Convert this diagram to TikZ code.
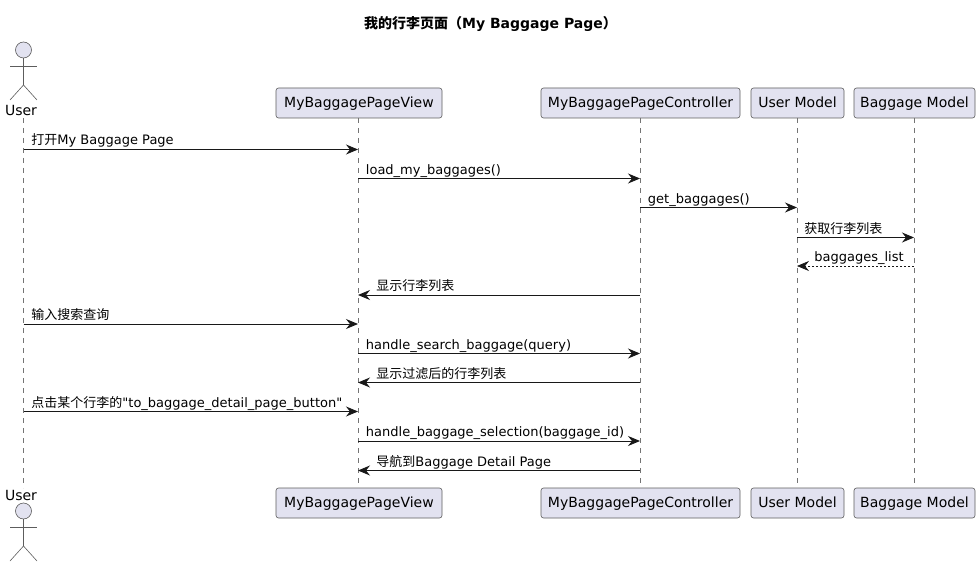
\documentclass[tikz,border=0pt]{standalone}
\usepackage{fontspec}
\setmainfont{DejaVu Sans}
\newfontfamily\cjk{Noto Sans CJK SC}
\newfontfamily\rawfont{DejaVu Sans}
\usetikzlibrary{arrows.meta}
\definecolor{boxfill}{HTML}{E2E2F0}
\definecolor{inkdark}{HTML}{181818}
\newcommand{\straightquote}{{\rawfont\char34}}
\tikzset{
	participantbox/.style={draw=inkdark!70,line width=0.6pt,fill=boxfill,rounded corners=2.5pt,
		minimum height=30pt,inner sep=0pt,font=\fontsize{14}{16}\selectfont,text=black,
		text height=11.5pt,text depth=2.5pt},
	actorhead/.style={circle,draw=inkdark!70,line width=0.6pt,fill=boxfill,minimum size=16pt,inner sep=0pt},
	actorline/.style={draw=inkdark!70,line width=0.6pt},
	actorlabel/.style={font=\fontsize{14}{16}\selectfont,inner sep=0pt,text=black},
	lifeline/.style={draw=inkdark!60,line width=0.6pt,dash pattern=on 5pt off 5pt},
	msgarrow/.style={draw=inkdark,line width=0.9pt,-{Stealth[length=12pt,width=10pt,inset=4pt]}},
	replyarrow/.style={msgarrow,line width=0.7pt,dash pattern=on 2pt off 2pt},
	msglabel/.style={font=\fontsize{13}{15}\selectfont,inner sep=0pt,anchor=base west,text=black,yshift=4.5pt},
}
\begin{document}
\begin{tikzpicture}[x=1pt,y=-1pt]
	\useasboundingbox (0,0) rectangle (980,567);

	\node[inner sep=0pt,font=\fontsize{14}{16}\selectfont\bfseries] (title) at (490.5,23.5)
		{{\cjk 我的行李页面（}My Baggage Page{\cjk ）}};

	% participants, top row
	\node[participantbox,minimum width=166pt] (viewtop) at (359,103) {MyBaggagePageView};
	\node[participantbox,minimum width=199pt] (ctrltop) at (640.5,103) {MyBaggagePageController};
	\node[participantbox,minimum width=93pt] (usermtop) at (797.5,103) {User Model};
	\node[participantbox,minimum width=121pt] (bagmtop) at (914.5,103) {Baggage Model};

	% participants, bottom row
	\node[participantbox,minimum width=166pt] (viewbot) at (359,503) {MyBaggagePageView};
	\node[participantbox,minimum width=199pt] (ctrlbot) at (640.5,503) {MyBaggagePageController};
	\node[participantbox,minimum width=93pt] (usermbot) at (797.5,503) {User Model};
	\node[participantbox,minimum width=121pt] (bagmbot) at (914.5,503) {Baggage Model};

	% actor, top
	\node[actorhead] (headtop) at (23.5,50) {};
	\coordinate (hiptop) at (23.5,85);
	\coordinate (armltop) at (10,66);
	\coordinate (armrtop) at (37,66);
	\coordinate (leglltop) at (10,100);
	\coordinate (legrtop) at (37,100);
	\draw[actorline] (headtop) -- (hiptop);
	\draw[actorline] (armltop) -- (armrtop);
	\draw[actorline] (leglltop) -- (hiptop) -- (legrtop);
	\node[actorlabel] (usertop) at (21,110) {User};

	% actor, bottom
	\node[actorlabel] (userbot) at (21,495) {User};
	\node[actorhead] (headbot) at (23.5,511) {};
	\coordinate (hipbot) at (23.5,546);
	\coordinate (armlbot) at (10,527);
	\coordinate (armrbot) at (37,527);
	\coordinate (legllbot) at (10,561);
	\coordinate (legrbot) at (37,561);
	\draw[actorline] (headbot) -- (hipbot);
	\draw[actorline] (armlbot) -- (armrbot);
	\draw[actorline] (legllbot) -- (hipbot) -- (legrbot);

	% lifelines
	\coordinate (userstart) at (23.5,118);
	\coordinate (userend) at (23.5,488);
	\draw[lifeline] (userstart) -- (userend);
	\coordinate (view) at (358,118);
	\coordinate (ctrl) at (640,118);
	\coordinate (userm) at (797,118);
	\coordinate (bagm) at (914,118);
	\draw[lifeline] (view) -- (view |- viewbot.north);
	\draw[lifeline] (ctrl) -- (ctrl |- ctrlbot.north);
	\draw[lifeline] (userm) -- (userm |- usermbot.north);
	\draw[lifeline] (bagm) -- (bagm |- bagmbot.north);

	% messages
	\coordinate (m1) at (0,149.5);
	\draw[msgarrow] (userstart |- m1) -- (view |- m1)
		node[msglabel,pos=0,xshift=7.5pt] {{\cjk 打开}My Baggage Page};
	\coordinate (m2) at (0,178.5);
	\draw[msgarrow] (view |- m2) -- (ctrl |- m2)
		node[msglabel,pos=0,xshift=7.5pt,yshift=-0.5pt] {load\_my\_baggages()};
	\coordinate (m3) at (0,207.5);
	\draw[msgarrow] (ctrl |- m3) -- (userm |- m3)
		node[msglabel,pos=0,xshift=7.5pt] {get\_baggages()};
	\coordinate (m4) at (0,237.5);
	\draw[msgarrow] (userm |- m4) -- (bagm |- m4)
		node[msglabel,pos=0,xshift=7pt] {\cjk 获取行李列表};
	\coordinate (m5) at (0,266);
	\draw[replyarrow] (bagm |- m5) -- (userm |- m5)
		node[msglabel,pos=1,xshift=17pt] {baggages\_list};
	\coordinate (m6) at (0,295);
	\draw[msgarrow] (ctrl |- m6) -- (view |- m6)
		node[msglabel,pos=1,xshift=18pt] {\cjk 显示行李列表};
	\coordinate (m7) at (0,324);
	\draw[msgarrow] (userstart |- m7) -- (view |- m7)
		node[msglabel,pos=0,xshift=7.5pt] {\cjk 输入搜索查询};
	\coordinate (m8) at (0,353.5);
	\draw[msgarrow] (view |- m8) -- (ctrl |- m8)
		node[msglabel,pos=0,xshift=7.5pt] {handle\_search\_baggage(query)};
	\coordinate (m9) at (0,382.5);
	\draw[msgarrow] (ctrl |- m9) -- (view |- m9)
		node[msglabel,pos=1,xshift=18pt] {\cjk 显示过滤后的行李列表};
	\coordinate (m10) at (0,411.5);
	\draw[msgarrow] (userstart |- m10) -- (view |- m10)
		node[msglabel,pos=0,xshift=7.5pt] {{\cjk 点击某个行李的}\straightquote to\_baggage\_detail\_page\_button\straightquote};
	\coordinate (m11) at (0,441);
	\draw[msgarrow] (view |- m11) -- (ctrl |- m11)
		node[msglabel,pos=0,xshift=7.5pt] {handle\_baggage\_selection(baggage\_id)};
	\coordinate (m12) at (0,470.5);
	\draw[msgarrow] (ctrl |- m12) -- (view |- m12)
		node[msglabel,pos=1,xshift=18pt] {{\cjk 导航到}Baggage Detail Page};
\end{tikzpicture}
\end{document}
